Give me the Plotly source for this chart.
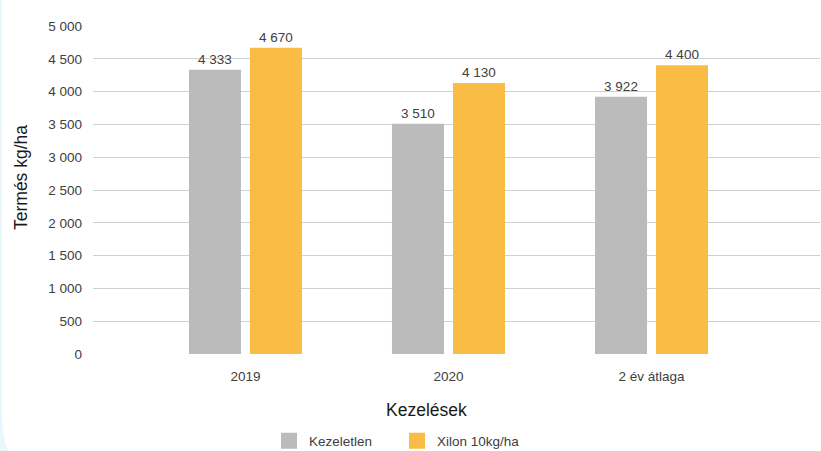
import plotly.graph_objects as go

# ---- data ----
categories = ["2019", "2020", "2 év átlaga"]
kezeletlen = [4333, 3510, 3922]
xilon = [4670, 4130, 4400]
series_names = ["Kezeletlen", "Xilon 10kg/ha"]
series_colors = ["#BBBBBB", "#F9BC45"]
y_ticks = [0, 500, 1000, 1500, 2000, 2500, 3000, 3500, 4000, 4500, 5000]
x_title = "Kezelések"
y_title = "Termés kg/ha"

W, H = 821, 451
ML, MR, MT, MB = 93, 1, 26, 97
PW, PH = W - ML - MR, H - MT - MB


def px(xp):
    return (xp - ML) / PW


def py(yp):
    return (H - MB - yp) / PH


FONT = "Liberation Sans, Arial, sans-serif"
TXT = "#404040"

fig = go.Figure()
for name, vals, col in zip(series_names, [kezeletlen, xilon], series_colors):
    fig.add_trace(go.Bar(
        x=categories, y=vals, name=name, marker=dict(color=col, line=dict(width=0)),
        text=vals, texttemplate="%{y:,}", textposition="outside",
        textfont=dict(size=13.5, color=TXT, family=FONT),
        cliponaxis=False, showlegend=False, hoverinfo="x+y+name",
    ))
    fig.add_trace(go.Scatter(
        x=[None], y=[None], mode="markers", name=name,
        marker=dict(symbol="square", size=16, color=col), showlegend=True,
    ))

# panel background: light blue strip at left with rounded bottom-left corner
path = (f"M {px(2)},{py(-5)} L {px(2)},{py(418)} "
        f"Q {px(3)},{py(446)} {px(12)},{py(456)} "
        f"L {px(830)},{py(456)} L {px(830)},{py(-5)} Z")

fig.update_layout(
    width=W, height=H,
    margin=dict(l=ML, r=MR, t=MT, b=MB, autoexpand=False),
    paper_bgcolor="#EAF6FD",
    plot_bgcolor="rgba(0,0,0,0)",
    separators=", ",
    barmode="group", bargap=0.399, bargroupgap=0.1475,
    font=dict(family=FONT, color=TXT, size=13.5),
    shapes=[dict(type="path", path=path, xref="paper", yref="paper",
                 fillcolor="white", line=dict(width=0), layer="below")],
    xaxis=dict(
        range=[-0.751, 2.83], showgrid=False, zeroline=False, showline=False,
        ticks="", ticklabelstandoff=12,
        tickfont=dict(size=13.5, color=TXT, family=FONT),
    ),
    yaxis=dict(
        range=[0, 5000], tickvals=y_ticks, tickformat=",",
        showgrid=True, gridcolor="#D0D0D0", gridwidth=1,
        zeroline=False, showline=False, ticks="", ticklabelstandoff=10,
        tickfont=dict(size=13.5, color=TXT, family=FONT),
    ),
    legend=dict(
        orientation="h", xref="paper", yref="paper",
        x=px(397), y=py(441), xanchor="center", yanchor="middle",
        font=dict(size=13.5, color=TXT, family=FONT),
        bgcolor="rgba(0,0,0,0)", entrywidth=83, itemclick=False,
    ),
    annotations=[
        dict(text=x_title, xref="paper", yref="paper", x=px(426), y=py(410),
             xanchor="center", yanchor="middle", showarrow=False,
             font=dict(size=17.5, color="#1A1A1A", family=FONT)),
        dict(text=y_title, xref="paper", yref="paper", x=px(21), y=py(178),
             xanchor="center", yanchor="middle", showarrow=False, textangle=-90,
             font=dict(size=17.5, color="#1A1A1A", family=FONT)),
    ],
)

fig.write_html(
    "out.html",
    config={"displayModeBar": False},
    post_script="document.body.style.margin='0';document.body.style.overflow='hidden';",
)
